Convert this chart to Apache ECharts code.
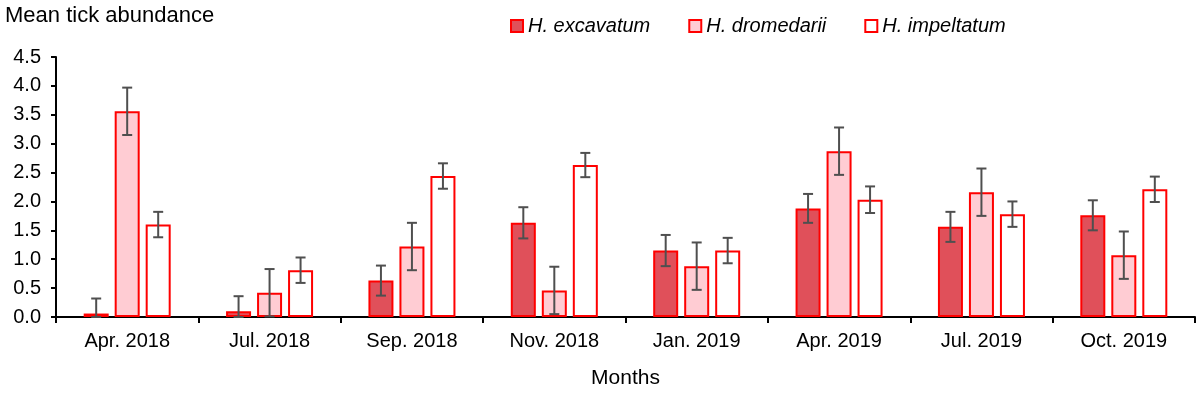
<!DOCTYPE html>
<html>
<head>
<meta charset="utf-8">
<script src="https://cdn.jsdelivr.net/npm/echarts@6/dist/echarts.min.js"></script>
<style>html,body{margin:0;padding:0;background:#fff}#c{width:1200px;height:394px}</style>
</head>
<body>
<div id="c"></div>
<script>
const categories = ['Apr. 2018','Jul. 2018','Sep. 2018','Nov. 2018','Jan. 2019','Apr. 2019','Jul. 2019','Oct. 2019'];
const seriesNames = ['H. excavatum','H. dromedarii','H. impeltatum'];
const excavatum = [0.06, 0.10, 0.63, 1.63, 1.15, 1.88, 1.56, 1.76];
const excavatumErr = [0.26, 0.26, 0.26, 0.27, 0.27, 0.25, 0.26, 0.26];
const dromedarii = [3.56, 0.42, 1.22, 0.46, 0.88, 2.87, 2.16, 1.07];
const dromedariiErr = [0.41, 0.41, 0.41, 0.41, 0.41, 0.41, 0.41, 0.41];
const impeltatum = [1.60, 0.81, 2.44, 2.63, 1.15, 2.03, 1.78, 2.21];
const impeltatumErr = [0.22, 0.22, 0.22, 0.21, 0.22, 0.23, 0.22, 0.22];
const yTicks = [0, 0.5, 1, 1.5, 2, 2.5, 3, 3.5, 4, 4.5];

const values = [excavatum, dromedarii, impeltatum];
const errs = [excavatumErr, dromedariiErr, impeltatumErr];
const fills = ['#E0505A', '#FFCCD3', '#FFFFFF'];
const BAR_W = 25, GAP = 6;
const font = '"Liberation Sans", Arial, sans-serif';

const chart = echarts.init(document.getElementById('c'));
const series = [];
values.forEach((v, i) => {
  series.push({
    name: seriesNames[i], type: 'bar', data: v, barWidth: BAR_W, barGap: (GAP / BAR_W * 100) + '%',
    itemStyle: { color: fills[i], borderColor: '#FF0000', borderWidth: 2 },
    z: 2
  });
});
values.forEach((v, i) => {
  series.push({
    type: 'custom', name: seriesNames[i] + ' err', z: 5, silent: true,
    data: v.map((val, k) => [k, val, errs[i][k]]),
    renderItem: function (params, api) {
      const k = api.value(0), val = api.value(1), e = api.value(2);
      const off = (i - 1) * (BAR_W + GAP);
      const hi = api.coord([k, val + e]);
      const lo = api.coord([k, Math.max(0, val - e)]);
      const x = hi[0] + off;
      const cap = 5;
      const st = { stroke: '#4F4F4F', lineWidth: 2, fill: null };
      return { type: 'group', children: [
        { type: 'line', shape: { x1: x, y1: hi[1], x2: x, y2: lo[1] }, style: st },
        { type: 'line', shape: { x1: x - cap, y1: hi[1], x2: x + cap, y2: hi[1] }, style: st },
        { type: 'line', shape: { x1: x - cap, y1: lo[1], x2: x + cap, y2: lo[1] }, style: st }
      ]};
    }
  });
});

chart.setOption({
  animation: false,
  textStyle: { fontFamily: font },
  title: { text: 'Mean tick abundance', left: 0, top: 0,
    textStyle: { fontFamily: font, fontSize: 22, fontWeight: 'normal', color: '#000' } },
  legend: {
    data: seriesNames, left: 505, top: 11, icon: 'rect', itemWidth: 12, itemHeight: 12, itemGap: 38,
    textStyle: { fontFamily: font, fontSize: 20, fontStyle: 'italic', color: '#000' }
  },
  grid: { left: 56, right: 5, top: 57, bottom: 72, containLabel: false },
  xAxis: {
    type: 'category', data: categories, boundaryGap: true,
    name: 'Months', nameLocation: 'middle', nameGap: 51,
    nameTextStyle: { fontFamily: font, fontSize: 21, color: '#000' },
    axisLine: { lineStyle: { color: '#000', width: 2 } },
    axisTick: { show: true, length: 6, lineStyle: { color: '#000', width: 2 }, alignWithLabel: false },
    axisLabel: { fontFamily: font, fontSize: 20, color: '#000', margin: 14 }
  },
  yAxis: {
    type: 'value', min: yTicks[0], max: yTicks[yTicks.length - 1], interval: 0.5,
    axisLine: { show: true, lineStyle: { color: '#000', width: 2 } },
    axisTick: { show: true, length: 5, lineStyle: { color: '#000', width: 2 } },
    splitLine: { show: false },
    axisLabel: { fontFamily: font, fontSize: 20, color: '#000', margin: 15,
      formatter: v => v.toFixed(1) }
  },
  series: series
});
</script>
</body>
</html>
